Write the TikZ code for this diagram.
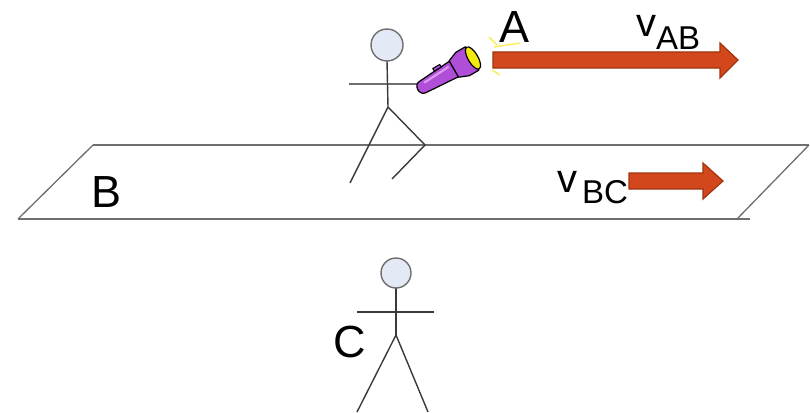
\documentclass[tikz,border=0pt]{standalone}
\usepackage{fontspec}
\setmainfont{Liberation Sans}
\definecolor{platgray}{HTML}{6E6E6E}
\definecolor{stickgray}{HTML}{3A3A3A}
\definecolor{headfill}{HTML}{E4EAF5}
\definecolor{arrowfill}{HTML}{D2481C}
\definecolor{arrowdraw}{HTML}{A0340F}
\definecolor{flpurple}{HTML}{B04ED8}
\definecolor{fllight}{HTML}{D99AF0}
\definecolor{lensyellow}{HTML}{F5EA10}
\definecolor{raycolor}{HTML}{F8EE60}
\begin{document}
\begin{tikzpicture}[x=1pt,y=-1pt,
  platline/.style={draw=platgray, line width=2pt},
  platedge/.style={draw=platgray, line width=1.3pt},
  limb/.style={draw=stickgray, line width=1.4pt},
  armline/.style={draw=platgray, line width=2pt},
  headball/.style={draw=platgray, fill=headfill, line width=1.4pt},
  fatarrow/.style={fill=arrowfill, draw=arrowdraw, line width=1.2pt, line join=miter},
  lbl/.style={inner sep=0pt, anchor=base west, font=\fontsize{45}{45}\selectfont},
  vlbl/.style={inner sep=0pt, anchor=base west, font=\fontsize{40}{40}\selectfont},
  ray/.style={draw=raycolor, line width=1.5pt}]
\useasboundingbox (0,0) rectangle (810,412);

% moving platform B
\draw[platline] (93,145) -- (809,145);
\draw[platline] (18,219) -- (750,219);
\draw[platedge] (93,145) -- (18,219);
\draw[platedge] (809,145) -- (737,219);

% walker A standing on the platform
\draw[armline] (349,84) -- (425,84);
\draw[limb] (387,61) -- (388,107);
\draw[limb] (388,107) -- (350,183);
\draw[limb] (388,107) -- (425,145) -- (392,179);
\draw[headball] (387,45) circle[radius=16];

% flashlight held by A
\begin{scope}[shift={(421,88)}, rotate=30]
  \filldraw[fill=flpurple, draw=black, line width=1.2pt, line join=round]
    (2,-6.5) -- (38,-9) -- (38,9) -- (2,6.5) .. controls (-5.5,6.5) and (-5.5,-6.5) .. (2,-6.5) -- cycle;
  \draw[fllight, line width=2.2pt, line cap=round] (6,-3) -- (34,-4.5);
  \filldraw[fill=flpurple, draw=black, line width=1pt] (20,-8) rectangle (28,-11);
  \filldraw[fill=flpurple, draw=black, line width=1.2pt, line join=round]
    (38,-9.5) -- (48,-13.5) -- (59,-13.5) -- (59,13.5) -- (48,13.5) -- (38,9.5) -- cycle;
  \filldraw[fill=lensyellow, draw=black, line width=1.2pt] (60,0) ellipse[x radius=5, y radius=12.5];
\end{scope}
\draw[ray] (489,37) -- (497,45);
\draw[ray] (494,47) -- (520,43);
\draw[ray] (492,70) -- (500,75);

% velocity arrows
\draw[fatarrow] (493,52) -- (720,52) -- (720,43) -- (738,60) -- (720,78) -- (720,68) -- (493,68) -- cycle;
\draw[fatarrow] (629,173) -- (703,173) -- (703,163) -- (723,181) -- (703,199) -- (703,189) -- (629,189) -- cycle;

% observer C on the ground
\draw[limb] (357,312) -- (434,312);
\draw[limb] (396,288) -- (396,335);
\draw[limb] (396,335) -- (357,412);
\draw[limb] (396,335) -- (428,412);
\draw[headball] (396,273) circle[radius=15];

% labels
\node[lbl] (labA) at (499,42) {A};
\node[lbl] (labB) at (91,207) {B};
\node[lbl] (labC) at (333,357) {C};
\node[vlbl] (labvAB) at (636,37) {v\raisebox{-13pt}{\fontsize{33}{33}\selectfont AB}};
\node[vlbl] (labvBC) at (557,192) {v\kern5pt\raisebox{-11pt}{\fontsize{33}{33}\selectfont BC}};
\end{tikzpicture}
\end{document}
